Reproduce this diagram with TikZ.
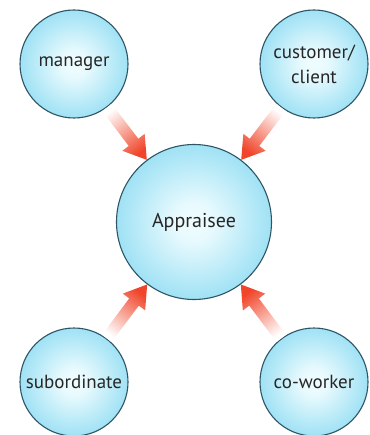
\documentclass[tikz,border=0pt]{standalone}
\usepackage{fontspec}
\setmainfont{PT Sans}
\usetikzlibrary{calc}

\definecolor{bubbleedge}{HTML}{2E5566}
\definecolor{arrowred}{HTML}{F0452A}

% pale centre fading out to cyan at the rim
\pgfdeclareradialshading{bubbleshade}{\pgfpoint{0bp}{0bp}}{%
  rgb(0bp)=(0.94,0.99,1); rgb(6bp)=(0.91,0.98,0.995);
  rgb(30bp)=(0.55,0.86,0.95); rgb(50bp)=(0.35,0.78,0.91)}

\tikzset{
  bubble/.style={circle, draw=bubbleedge, line width=1.1pt,
    shading=bubbleshade, minimum size=108pt, inner sep=0pt, align=center,
    font=\fontsize{19}{25}\selectfont, text=black!85},
  bigbubble/.style={bubble, minimum size=155pt,
    font=\fontsize{20}{25}\selectfont},
}

% fat shaded arrow from the rim of one bubble to the rim of another
\newcommand\fbarrow[2]{%
  \path (#1) -- (#2) coordinate[pos=0] (s) coordinate[pos=1] (t);
  \pgfmathanglebetweenpoints{\pgfpointanchor{s}{center}}{\pgfpointanchor{t}{center}}
  \pgfmathsetmacro\shang{\pgfmathresult-90}
  \coordinate (h) at ($(t)!22pt!(s)$);
  \shade[bottom color=white, top color=arrowred, shading angle=\shang]
    ($(s)!6pt!90:(t)$) -- ($(h)!6pt!90:(t)$) -- ($(h)!14pt!90:(t)$) -- (t)
    -- ($(h)!14pt!-90:(t)$) -- ($(h)!6pt!-90:(t)$) -- ($(s)!6pt!-90:(t)$) -- cycle;
}

\begin{document}
\begin{tikzpicture}[x=1pt, y=-1pt]
  \useasboundingbox (0,0) rectangle (369,435);

  \node[bigbubble] (ap) at (194,222) {Appraisee};
  \node[bubble] (mgr)  at (74,64)   {manager};
  \node[bubble] (cust) at (314,64)  {customer/\\client};
  \node[bubble] (sub)  at (74,382)  {subordinate};
  \node[bubble] (cow)  at (314,382) {co-worker};

  \foreach \src in {mgr, cust, sub, cow}
    \fbarrow{\src}{ap};
\end{tikzpicture}
\end{document}
